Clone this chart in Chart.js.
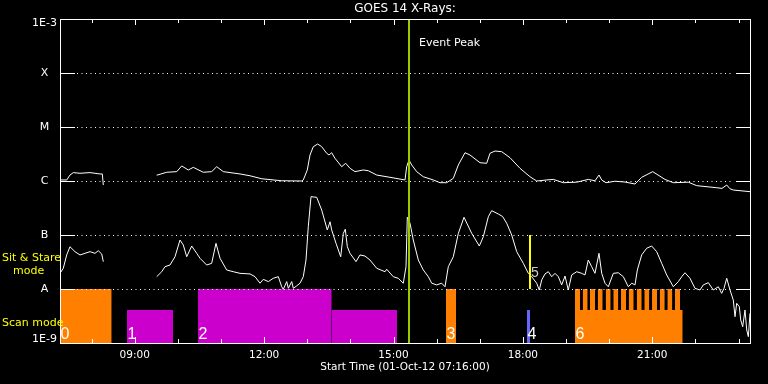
<!DOCTYPE html>
<html>
<head>
<meta charset="utf-8">
<title>GOES 14 X-Rays</title>
<script src="https://cdn.jsdelivr.net/npm/chart.js@4.4.1/dist/chart.umd.min.js"></script>
<style>
    html, body { margin: 0; padding: 0; background: #000; overflow: hidden; }
</style>
</head>
<body>
<canvas id="goesChart" width="768" height="384"></canvas>
<script>
        // Time axis (decimal hours, 01-Oct-12)
        const xMin = 7 + 16 / 60;
        const xMax = 23 + 16 / 60;
        const xTickHours = [9, 12, 15, 18, 21];
        const xTickLabels = ['09:00', '12:00', '15:00', '18:00', '21:00'];

        // Flux axis (W/m^2)
        const yTickValues = [1e-9, 1e-8, 1e-7, 1e-6, 1e-5, 1e-4, 1e-3];
        const yTickLabels = [['1E-9', ''], 'A', 'B', 'C', 'M', 'X', ['', '1E-3']];

        // 1-8 A channel (null = data gap)
        const longTime = [7.267, 7.290, 7.422, 7.498, 7.575, 7.730, 7.962, 8.078, 8.194, 8.248, 8.271, 8.9,
            9.509, 9.741, 9.973, 10.089, 10.242, 10.358, 10.590, 10.784, 10.900, 11.053, 11.441, 11.673,
            11.944, 12.408, 12.871, 12.908, 13.001, 13.064, 13.140, 13.242, 13.335, 13.451, 13.504, 13.567,
            13.643, 13.799, 13.891, 13.991, 14.107, 14.300, 14.416, 14.610, 14.919, 15.267, 15.306, 15.359,
            15.422, 15.538, 15.691, 15.923, 16.078, 16.234, 16.387, 16.503, 16.658, 16.774, 17.006, 17.161,
            17.238, 17.354, 17.509, 17.702, 17.933, 18.165, 18.320, 18.552, 18.706, 18.938, 19.248, 19.517,
            19.672, 19.765, 19.828, 19.928, 20.136, 20.368, 20.600, 20.755, 21.011, 21.296, 21.489, 21.835,
            22.031, 22.495, 22.617, 22.727, 22.800, 22.879, 23.267];
        const longFlux = [1.05e-6, 1.045e-6, 1.045e-6, 1.29e-6, 1.43e-6, 1.39e-6, 1.43e-6, 1.39e-6, 1.35e-6, 1.35e-6, 8.43e-7, null,
            1.28e-6, 1.45e-6, 1.49e-6, 1.90e-6, 1.60e-6, 1.79e-6, 1.45e-6, 1.49e-6, 1.84e-6, 1.49e-6, 1.35e-6, 1.25e-6,
            1.10e-6, 1.01e-6, 1.0e-6, 1.045e-6, 1.60e-6, 3.03e-6, 4.32e-6, 4.84e-6, 4.32e-6, 3.26e-6, 3.03e-6, 3.34e-6,
            2.63e-6, 1.84e-6, 2.13e-6, 1.72e-6, 1.49e-6, 1.60e-6, 1.55e-6, 1.29e-6, 1.17e-6, 1.045e-6, 1.84e-6, 2.45e-6,
            1.98e-6, 1.49e-6, 1.20e-6, 1.045e-6, 9.3e-7, 9.3e-7, 1.12e-6, 1.98e-6, 3.34e-6, 3.03e-6, 2.18e-6, 2.13e-6,
            3.26e-6, 3.59e-6, 3.49e-6, 2.7e-6, 1.72e-6, 1.20e-6, 1.0e-6, 1.045e-6, 1.07e-6, 9.3e-7, 9.5e-7, 1.07e-6,
            1.01e-6, 1.29e-6, 1.045e-6, 9.3e-7, 9.9e-7, 9.57e-7, 8.79e-7, 1.17e-6, 1.49e-6, 1.07e-6, 9.3e-7, 9.5e-7,
            8.2e-7, 7.5e-7, 7.3e-7, 8.43e-7, 7.2e-7, 6.81e-7, 6.34e-7];

        // 0.5-4 A channel (null = data gap)
        const shortTime = [7.267, 7.343, 7.422, 7.498, 7.614, 7.730, 7.846, 7.962, 8.078, 8.155, 8.234, 8.271, 8.9,
            9.509, 9.625, 9.702, 9.817, 9.933, 10.049, 10.126, 10.205, 10.321, 10.437, 10.513, 10.668, 10.784,
            10.884, 10.977, 11.132, 11.285, 11.441, 11.673, 11.789, 11.904, 11.981, 12.097, 12.213, 12.329,
            12.408, 12.445, 12.524, 12.561, 12.640, 12.677, 12.755, 12.832, 12.908, 12.971, 13.024, 13.087,
            13.219, 13.335, 13.465, 13.528, 13.567, 13.667, 13.776, 13.836, 13.882, 13.929, 13.991, 14.131,
            14.223, 14.339, 14.455, 14.610, 14.803, 14.842, 14.995, 15.111, 15.227, 15.290, 15.320, 15.383,
            15.459, 15.575, 15.691, 15.807, 15.886, 16.002, 16.118, 16.194, 16.271, 16.387, 16.503, 16.635,
            16.814, 16.990, 17.083, 17.199, 17.277, 17.430, 17.530, 17.625, 17.741, 17.857, 18.010, 18.126,
            18.204, 18.320, 18.381, 18.437, 18.513, 18.590, 18.669, 18.745, 18.822, 18.900, 18.977, 19.053,
            19.132, 19.248, 19.364, 19.441, 19.517, 19.596, 19.672, 19.765, 19.828, 19.904, 19.981, 20.097,
            20.213, 20.329, 20.445, 20.524, 20.600, 20.654, 20.755, 20.871, 20.987, 21.103, 21.219, 21.335,
            21.489, 21.605, 21.683, 21.759, 21.875, 21.991, 22.107, 22.184, 22.300, 22.416, 22.532, 22.610,
            22.664, 22.727, 22.803, 22.879, 22.919, 22.958, 23.019, 23.051, 23.097, 23.151, 23.191, 23.228, 23.267];
        const shortFlux = [1.95e-8, 2.42e-8, 4.27e-8, 6.07e-8, 4.91e-8, 4.27e-8, 4.58e-8, 4.91e-8, 4.58e-8, 5.12e-8, 4.45e-8, 3.21e-8, null,
            1.69e-8, 2.09e-8, 2.59e-8, 2.78e-8, 3.96e-8, 8.07e-8, 6.53e-8, 3.96e-8, 6.25e-8, 4.58e-8, 3.71e-8, 2.78e-8, 2.99e-8,
            7.02e-8, 3.71e-8, 2.25e-8, 2.09e-8, 1.95e-8, 1.90e-8, 1.69e-8, 1.28e-8, 1.51e-8, 1.37e-8, 1.58e-8, 1.69e-8,
            1.10e-8, 9.87e-9, 1.37e-8, 1.03e-8, 1.37e-8, 1.03e-8, 1.14e-8, 1.28e-8, 1.69e-8, 3.44e-8, 1.43e-7, 5.12e-7,
            4.99e-7, 2.90e-7, 1.24e-7, 1.76e-7, 1.24e-7, 7.02e-8, 3.96e-8, 1.07e-7, 1.28e-7, 6.07e-8, 4.58e-8, 3.21e-8,
            4.27e-8, 4.08e-8, 3.44e-8, 2.42e-8, 2.09e-8, 2.32e-8, 1.69e-8, 1.58e-8, 1.28e-8, 2.59e-8, 2.13e-7, 1.65e-7,
            8.07e-8, 3.44e-8, 2.25e-8, 1.69e-8, 1.28e-8, 1.19e-8, 1.28e-8, 1.10e-8, 2.59e-8, 3.96e-8, 1.07e-7, 2.13e-7,
            1.07e-7, 6.25e-8, 9.31e-8, 2.18e-7, 2.82e-7, 2.45e-7, 2.2e-7, 1.65e-7, 1.0e-7, 4.91e-8, 2.99e-8, 1.95e-8,
            1.69e-8, 1.28e-8, 9.57e-9, 1.47e-8, 1.90e-8, 2.09e-8, 1.69e-8, 1.95e-8, 1.69e-8, 1.19e-8, 1.74e-8, 9.57e-9,
            1.82e-8, 2.09e-8, 1.95e-8, 1.82e-8, 3.44e-8, 2.59e-8, 1.95e-8, 4.58e-8, 1.95e-8, 1.28e-8, 1.10e-8, 1.95e-8,
            2.0e-8, 1.69e-8, 1.10e-8, 1.28e-8, 1.19e-8, 2.25e-8, 4.27e-8, 5.68e-8, 6.25e-8, 4.91e-8, 2.99e-8, 1.82e-8,
            1.10e-8, 1.37e-8, 1.69e-8, 2.0e-8, 1.58e-8, 1.03e-8, 9.57e-9, 1.19e-8, 1.31e-8, 9.57e-9, 1.10e-8, 8.32e-9,
            1.03e-8, 1.58e-8, 9.57e-9, 6.25e-9, 3.07e-9, 5.43e-9, 4.70e-9, 2.67e-9, 2.0e-9, 4.08e-9, 1.74e-9, 1.31e-9, 3.55e-9];

        // Scan mode blocks (start/end hour, top level, kind, number)
        const blockStart = [7.267, 8.820, 10.467, 13.567, 16.218, 18.096, 19.209];
        const blockEnd = [8.465, 9.887, 13.567, 15.081, 16.449, 18.165, 21.706];
        const blockTop = [1e-8, 4.08e-9, 1e-8, 4.08e-9, 1e-8, 4.08e-9, 4.08e-9];
        const blockKind = ['orange', 'magenta', 'magenta', 'magenta', 'orange', 'blue', 'orange'];
        const blockNumber = ['0', '1', '2', '', '3', '4', '6'];

        // Comb on block 6 (start/end hour, reaching the A level)
        const toothStart = [19.209, 19.387, 19.557, 19.735, 19.920, 20.097, 20.276, 20.454, 20.640, 20.816,
            20.995, 21.174, 21.350, 21.528];
        const toothEnd = [19.325, 19.503, 19.673, 19.851, 20.036, 20.213, 20.392, 20.570, 20.756, 20.932,
            21.111, 21.290, 21.466, 21.644];
        const toothTop = 1e-8;

        // Markers
        const eventPeakHour = 15.356;
        const sitStareHour = 18.165;
        const sitStareRange = [1e-8, 1e-7];

        const kindColor = { orange: '#ff8000', magenta: '#cc00cc', blue: '#6666ff' };
        const axisFont = 'DejaVu Sans';

        const fillBlock = (s, e, top, color) => ({
            data: [{ x: s, y: top }, { x: e, y: top }],
            borderWidth: 0,
            pointRadius: 0,
            fill: 'start',
            backgroundColor: color
        });

        const curve = (times, flux) => ({
            data: times.map((t, i) => ({ x: t, y: flux[i] })),
            borderColor: '#ffffff',
            borderWidth: 1,
            pointRadius: 0,
            tension: 0,
            fill: false,
            spanGaps: false
        });

        // Frame, level lines, time ticks, markers and labels
        const overlay = {
            id: 'overlay',
            afterDatasetsDraw(chart) {
                const { ctx, chartArea: a, scales: { x, y } } = chart;
                const seg = (x1, y1, x2, y2) => {
                    ctx.beginPath(); ctx.moveTo(x1, y1); ctx.lineTo(x2, y2); ctx.stroke();
                };
                ctx.save();
                ctx.strokeStyle = '#ffffff';
                ctx.lineWidth = 1;

                yTickValues.slice(1, -1).forEach(v => {
                    const py = Math.round(y.getPixelForValue(v)) + 0.5;
                    seg(a.left, py, a.left + 15, py);
                    seg(a.right - 14, py, a.right, py);
                    ctx.setLineDash([1, 3.5]);
                    seg(a.left + 17, py, a.right - 16, py);
                    ctx.setLineDash([]);
                });

                for (let h = Math.ceil(xMin); h <= xMax; h++) {
                    const px = Math.round(x.getPixelForValue(h)) + 0.5;
                    const len = h % 3 === 0 ? 6 : 4;
                    seg(px, a.top, px, a.top + len);
                    seg(px, a.bottom, px, a.bottom - len);
                }

                ctx.strokeRect(a.left + 0.5, a.top + 0.5, a.width, a.height);

                // event peak
                const ex = Math.round(x.getPixelForValue(eventPeakHour));
                ctx.strokeStyle = '#99cc00';
                ctx.lineWidth = 2;
                seg(ex, a.top + 1, ex, a.bottom);

                // sit & stare marker
                const sx = Math.round(x.getPixelForValue(sitStareHour));
                ctx.strokeStyle = '#ffff00';
                seg(sx, y.getPixelForValue(sitStareRange[1]), sx, y.getPixelForValue(sitStareRange[0]));

                ctx.fillStyle = '#ffffff';
                ctx.textBaseline = 'middle';
                ctx.font = '11px "' + axisFont + '"';
                ctx.fillText('Event Peak', ex + 10, a.top + 24);

                ctx.textBaseline = 'alphabetic';
                ctx.font = '16px "Liberation Sans"';
                blockStart.forEach((s, i) => {
                    if (blockNumber[i]) ctx.fillText(blockNumber[i], x.getPixelForValue(s) + 0.5, a.bottom - 4);
                });
                ctx.fillStyle = '#cccccc';
                ctx.font = '14px "Liberation Sans"';
                ctx.fillText('5', sx + 1, y.getPixelForValue(sitStareRange[0]) - 12);

                // mode labels left of the axis
                const yA = y.getPixelForValue(1e-8);
                ctx.fillStyle = '#ffff00';
                ctx.textBaseline = 'middle';
                ctx.font = '11px "' + axisFont + '"';
                ctx.fillText('Sit & Stare', 2, yA - 31);
                ctx.fillText('mode', 13, yA - 18);
                ctx.fillText('Scan mode', 2, yA + 34);
                ctx.restore();
            }
        };

        const datasets = [curve(longTime, longFlux), curve(shortTime, shortFlux)];
        toothStart.forEach((s, i) => datasets.push(fillBlock(s, toothEnd[i], toothTop, kindColor.orange)));
        blockStart.forEach((s, i) => datasets.push(fillBlock(s, blockEnd[i], blockTop[i], kindColor[blockKind[i]])));

        new Chart(document.getElementById('goesChart'), {
            type: 'line',
            data: { datasets: datasets },
            options: {
                responsive: false,
                animation: false,
                events: [],
                layout: { padding: { left: 0, right: 18, top: 0, bottom: 0 } },
                plugins: {
                    legend: { display: false },
                    tooltip: { enabled: false },
                    title: {
                        display: true,
                        text: 'GOES 14 X-Rays:',
                        color: '#ffffff',
                        fullSize: false,
                        font: { family: axisFont, size: 12, weight: 'normal' },
                        padding: { top: 2, bottom: 2.6 }
                    }
                },
                scales: {
                    x: {
                        type: 'linear',
                        min: xMin,
                        max: xMax,
                        grid: { display: false, drawTicks: false },
                        border: { display: false },
                        afterBuildTicks: s => { s.ticks = xTickHours.map(v => ({ value: v })); },
                        afterFit: s => { s.height = 41; },
                        ticks: {
                            color: '#ffffff',
                            font: { family: axisFont, size: 10.5 },
                            padding: 6,
                            maxRotation: 0,
                            autoSkip: false,
                            callback: (v, i) => xTickLabels[i]
                        },
                        title: {
                            display: true,
                            text: 'Start Time (01-Oct-12 07:16:00)',
                            color: '#ffffff',
                            font: { family: axisFont, size: 10.5 },
                            padding: { top: 0, bottom: 10 }
                        }
                    },
                    y: {
                        type: 'logarithmic',
                        min: 1e-9,
                        max: 1e-3,
                        grid: { display: false, drawTicks: false },
                        border: { display: false },
                        afterBuildTicks: s => { s.ticks = yTickValues.map(v => ({ value: v })); },
                        afterFit: s => { s.width = 60; },
                        ticks: {
                            color: '#ffffff',
                            font: { family: axisFont, size: 11, lineHeight: '8px' },
                            padding: 3,
                            crossAlign: 'center',
                            autoSkip: false,
                            callback: (v, i) => yTickLabels[i]
                        }
                    }
                }
            },
            plugins: [overlay]
        });
</script>
</body>
</html>
